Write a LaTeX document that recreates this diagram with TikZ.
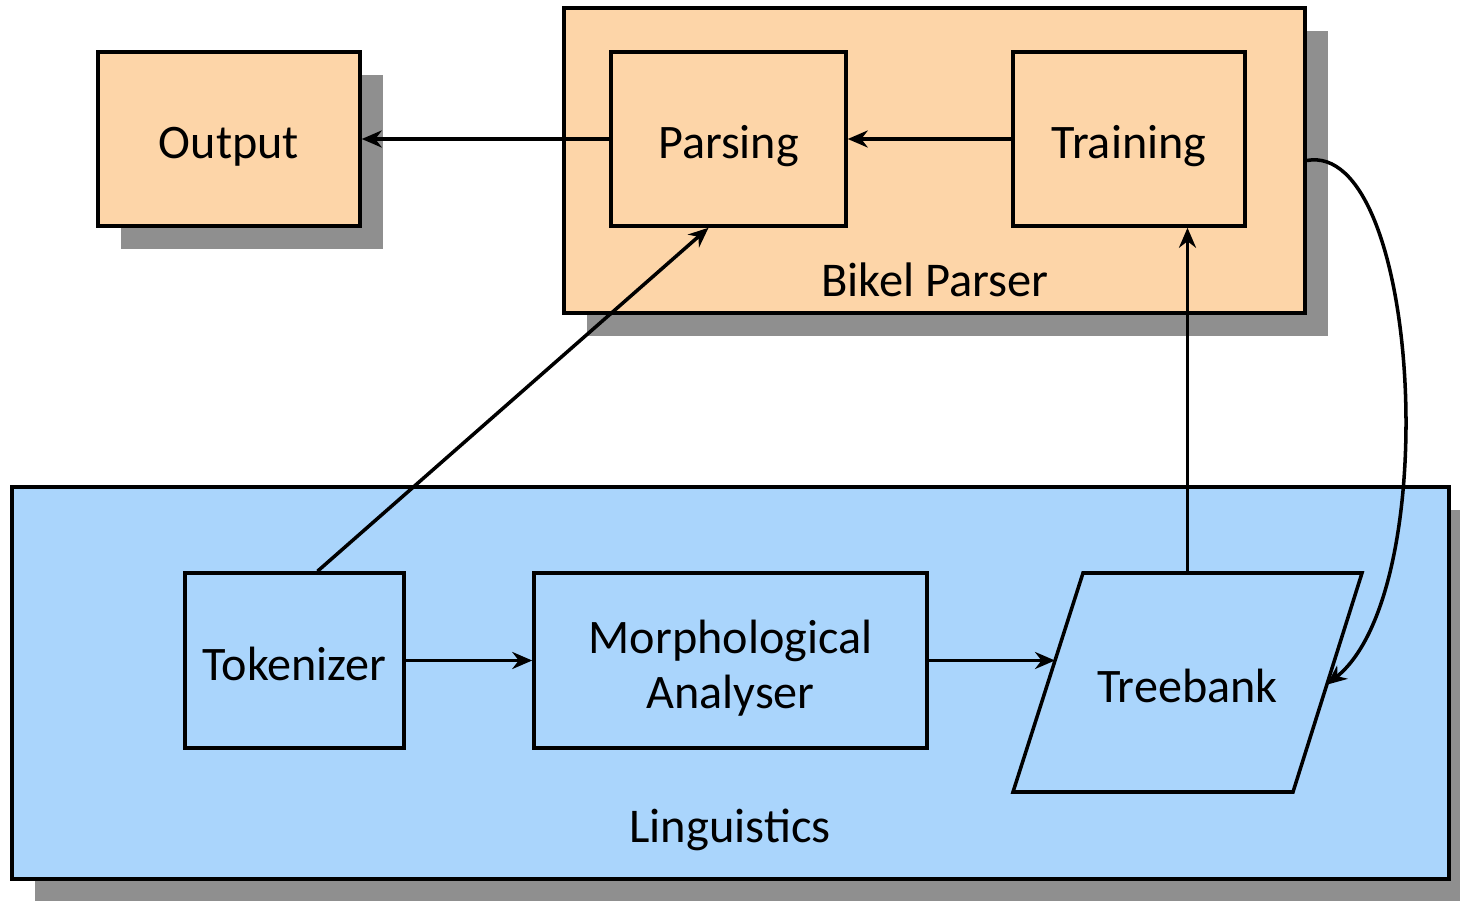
\documentclass[tikz,border=0pt]{standalone}
\usepackage{fontspec}
\setmainfont{Carlito}
\usetikzlibrary{arrows.meta,calc,shadows}
\definecolor{peach}{RGB}{253,213,168}
\definecolor{skyblue}{RGB}{170,213,252}
\definecolor{shadowgray}{RGB}{143,143,143}

\begin{document}
\begin{tikzpicture}[
    arrowtip/.style={
      -{Stealth[length=2mm,width=1.7mm]},line width=1pt
    },
    boxed/.style={rectangle,draw,line width=1pt,inner sep=0pt,
      align=center,font=\fontsize{13.7}{15.6}\selectfont},
    oneline/.style={text height=4.9mm,text depth=1mm},
    shadowed/.style={
      general shadow={fill=shadowgray,shadow xshift=2.3mm,shadow yshift=-2.3mm}
    },
    caption/.style={font=\fontsize{13.8}{16}\selectfont}
  ]
    \useasboundingbox (0,0) rectangle (14.6,9);

    % containers
    \node[boxed,shadowed,fill=peach,minimum width=7.41cm,minimum height=3.05cm] (Bikel) at (9.345,7.395) {};
    \node[caption] (BikelLabel) at (9.35,6.2) {Bikel Parser};
    \node[boxed,shadowed,fill=skyblue,minimum width=14.37cm,minimum height=3.92cm] (Ling) at (7.305,2.17) {};
    \node[caption] (LingLabel) at (7.30,0.70) {Linguistics};

    % boxes
    \node[boxed,oneline,shadowed,fill=peach,minimum width=2.62cm,minimum height=1.74cm] (Output) at (2.29,7.61) {Output};
    \node[boxed,oneline,fill=peach,minimum width=2.35cm,minimum height=1.74cm] (Parsing) at (7.285,7.61) {Parsing};
    \node[boxed,oneline,fill=peach,minimum width=2.32cm,minimum height=1.74cm] (Training) at (11.29,7.61) {Training};
    \node[boxed,oneline,fill=skyblue,minimum width=2.19cm,minimum height=1.75cm] (Tokenizer) at (2.945,2.395) {Tokenizer};
    \node[boxed,fill=skyblue,text height=10.6mm,text depth=1mm,minimum width=3.93cm,minimum height=1.75cm] (Morph) at (7.305,2.395) {Morphological\\Analyser};

    % treebank parallelogram
    \coordinate (TbBL) at (10.13,1.08);
    \coordinate (TbBR) at (12.93,1.08);
    \coordinate (TbTR) at (13.62,3.27);
    \coordinate (TbTL) at (10.83,3.27);
    \draw[fill=skyblue,line width=1pt] (TbBL) -- (TbBR) -- (TbTR) -- (TbTL) -- cycle;
    \node[boxed,oneline,draw=none] (Treebank) at (11.875,2.175) {Treebank};
    \coordinate (TbIn) at ($(TbBL)!0.6!(TbTL)$);
    \coordinate (TbBack) at ($(TbBR)!0.49!(TbTR)$);

    \draw[arrowtip] (Parsing) -- (Output);
    \draw[arrowtip] (Training) -- (Parsing);
    \draw[arrowtip] ([xshift=2.3mm]Tokenizer.north) -- ([xshift=-2mm]Parsing.south);
    \draw[arrowtip] (Tokenizer) -- (Morph);
    \draw[arrowtip] (Morph.east) -- (Morph.east -| TbIn);
    \draw[arrowtip] (Treebank |- TbTL) -- (Treebank |- Training.south);
    \draw[arrowtip] (Bikel.east) .. controls (14.2,7.6) and (14.45,3.1) .. (TbBack);
  \end{tikzpicture}
\end{document}
